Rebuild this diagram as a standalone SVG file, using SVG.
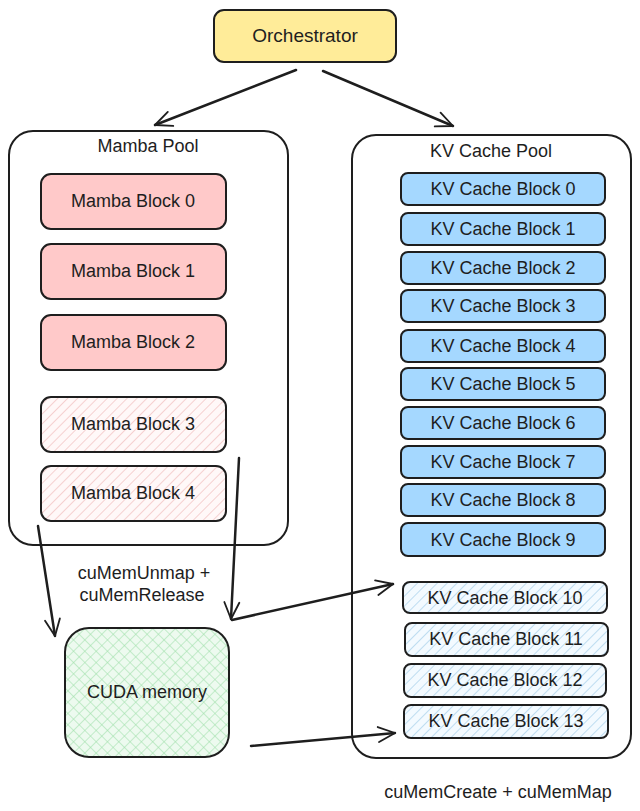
<svg xmlns="http://www.w3.org/2000/svg" width="640" height="811" viewBox="0 0 640 811">
<style>
text{font-family:"Liberation Sans","DejaVu Sans",sans-serif;font-size:18px;fill:#1e1e1e;text-anchor:middle;dominant-baseline:central}
.box{stroke:#1e1e1e;stroke-width:2}
.pool{fill:#fff;stroke:#1e1e1e;stroke-width:2}
.mamba{fill:#ffc9c9}
.kv{fill:#a5d8ff}
.conn{fill:none;stroke:#1e1e1e;stroke-width:2.5;stroke-linecap:round}
</style>
<defs>
<marker id="arr" viewBox="0 0 12 12" refX="11" refY="6" markerWidth="8" markerHeight="8" orient="auto" markerUnits="strokeWidth">
<path d="M1,1.5 L11,6 L1,10.5" fill="none" stroke="#1e1e1e" stroke-width="1.1" stroke-linecap="round" stroke-linejoin="round"/>
</marker>
<pattern id="hatchRed" width="7" height="7" patternUnits="userSpaceOnUse" patternTransform="rotate(45)">
<rect width="7" height="7" fill="#fff8f8"/>
<line x1="0" y1="0" x2="0" y2="7" stroke="#eeb0b0" stroke-width="1.1"/>
</pattern>
<pattern id="hatchBlue" width="7" height="7" patternUnits="userSpaceOnUse" patternTransform="rotate(45)">
<rect width="7" height="7" fill="#f3faff"/>
<line x1="0" y1="0" x2="0" y2="7" stroke="#92c6e6" stroke-width="1.1"/>
</pattern>
<pattern id="crossGreen" width="8" height="8" patternUnits="userSpaceOnUse" patternTransform="rotate(45)">
<rect width="8" height="8" fill="#edfaef"/>
<line x1="0" y1="0" x2="0" y2="8" stroke="#9ee0a9" stroke-width="1.1"/>
<line x1="0" y1="0" x2="8" y2="0" stroke="#9ee0a9" stroke-width="1.1"/>
</pattern>
</defs>

<g id="orchestrator">
<rect class="box" x="214" y="10" width="182" height="52" rx="10" fill="#ffec99"/>
<text x="305" y="35" style="font-size:19px">Orchestrator</text>
</g>

<g id="mamba-pool">
<rect class="pool" x="9" y="131" width="279" height="414" rx="24"/>
<text x="148" y="146">Mamba Pool</text>
</g>

<g id="kv-pool">
<rect class="pool" x="352" y="135" width="279" height="623" rx="24"/>
<text x="491" y="151">KV Cache Pool</text>
</g>

<g id="mamba-block-0"><rect class="box mamba" x="41" y="174" width="185" height="55" rx="10"/><text x="133" y="201">Mamba Block 0</text></g>
<g id="mamba-block-1"><rect class="box mamba" x="41" y="244" width="185" height="55" rx="10"/><text x="133" y="271">Mamba Block 1</text></g>
<g id="mamba-block-2"><rect class="box mamba" x="41" y="315" width="185" height="55" rx="10"/><text x="133" y="342">Mamba Block 2</text></g>
<g id="mamba-block-3"><rect class="box" x="41" y="397" width="185" height="55" rx="10" fill="url(#hatchRed)"/><text x="133" y="424">Mamba Block 3</text></g>
<g id="mamba-block-4"><rect class="box" x="41" y="466" width="185" height="55" rx="10" fill="url(#hatchRed)"/><text x="133" y="493">Mamba Block 4</text></g>

<g id="kv-block-0"><rect class="box kv" x="401" y="173" width="204" height="32" rx="7"/><text x="503" y="189">KV Cache Block 0</text></g>
<g id="kv-block-1"><rect class="box kv" x="401" y="213" width="204" height="32" rx="7"/><text x="503" y="229">KV Cache Block 1</text></g>
<g id="kv-block-2"><rect class="box kv" x="401" y="252" width="204" height="32" rx="7"/><text x="503" y="268">KV Cache Block 2</text></g>
<g id="kv-block-3"><rect class="box kv" x="401" y="290" width="204" height="32" rx="7"/><text x="503" y="306">KV Cache Block 3</text></g>
<g id="kv-block-4"><rect class="box kv" x="401" y="330" width="204" height="32" rx="7"/><text x="503" y="346">KV Cache Block 4</text></g>
<g id="kv-block-5"><rect class="box kv" x="401" y="368" width="204" height="32" rx="7"/><text x="503" y="384">KV Cache Block 5</text></g>
<g id="kv-block-6"><rect class="box kv" x="401" y="407" width="204" height="32" rx="7"/><text x="503" y="423">KV Cache Block 6</text></g>
<g id="kv-block-7"><rect class="box kv" x="401" y="446" width="204" height="32" rx="7"/><text x="503" y="462">KV Cache Block 7</text></g>
<g id="kv-block-8"><rect class="box kv" x="401" y="484" width="204" height="32" rx="7"/><text x="503" y="500">KV Cache Block 8</text></g>
<g id="kv-block-9"><rect class="box kv" x="401" y="523" width="204" height="33" rx="7"/><text x="503" y="540">KV Cache Block 9</text></g>
<g id="kv-block-10"><rect class="box" x="403" y="582" width="204" height="31" rx="7" fill="url(#hatchBlue)"/><text x="505" y="598">KV Cache Block 10</text></g>
<g id="kv-block-11"><rect class="box" x="405" y="623" width="203" height="33" rx="7" fill="url(#hatchBlue)"/><text x="506" y="639">KV Cache Block 11</text></g>
<g id="kv-block-12"><rect class="box" x="404" y="664" width="202" height="33" rx="7" fill="url(#hatchBlue)"/><text x="505" y="680">KV Cache Block 12</text></g>
<g id="kv-block-13"><rect class="box" x="404" y="705" width="204" height="33" rx="7" fill="url(#hatchBlue)"/><text x="506" y="721">KV Cache Block 13</text></g>

<g id="cuda-memory">
<rect class="box" x="65" y="628" width="164" height="129" rx="24" fill="url(#crossGreen)"/>
<text x="147" y="692">CUDA memory</text>
</g>

<g id="connectors">
<line class="conn" x1="296" y1="70" x2="155" y2="125" marker-end="url(#arr)"/>
<line class="conn" x1="323" y1="71" x2="453" y2="126" marker-end="url(#arr)"/>
<line class="conn" x1="38" y1="526" x2="55" y2="636" marker-end="url(#arr)"/>
<line class="conn" x1="239" y1="458" x2="231" y2="619" marker-end="url(#arr)"/>
<line class="conn" x1="232" y1="620" x2="393" y2="584" marker-end="url(#arr)"/>
<line class="conn" x1="251" y1="746" x2="395" y2="733" marker-end="url(#arr)"/>
</g>

<g id="labels">
<text x="144" y="573">cuMemUnmap +</text>
<text x="142" y="595">cuMemRelease</text>
<text x="498" y="792">cuMemCreate + cuMemMap</text>
</g>
</svg>
